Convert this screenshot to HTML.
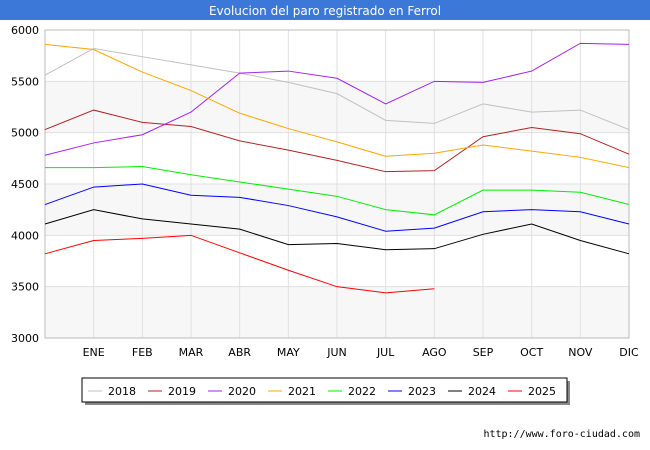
<!DOCTYPE html>
<html><head><meta charset="utf-8"><style>
body{margin:0;background:#fff;font-family:"Liberation Sans","DejaVu Sans",sans-serif;}
#wrap{position:relative;width:650px;height:450px;overflow:hidden;}
</style></head><body>
<div id="wrap">
<svg id="svg" width="650" height="450" xmlns="http://www.w3.org/2000/svg">
<rect x="0" y="0" width="650" height="20" fill="#3b78d8"/>
<text x="325" y="15" text-anchor="middle" fill="#fff" font-size="12" font-family="DejaVu Sans, sans-serif">Evolucion del paro registrado en Ferrol</text>
<g id="plot"></g>
<text x="640" y="437" text-anchor="end" font-size="10" font-family="DejaVu Sans Mono, monospace" fill="#000">http://www.foro-ciudad.com</text>
</svg>
</div>
<script>
const months=["","ENE","FEB","MAR","ABR","MAY","JUN","JUL","AGO","SEP","OCT","NOV","DIC"];
const yTicks=[3000,3500,4000,4500,5000,5500,6000];
const seriesNames=["2018","2019","2020","2021","2022","2023","2024","2025"];
const seriesColors=["#c0c0c0","#b22222","#a020f0","#ffa500","#00ee00","#0000ff","#000000","#ff0000"];
const s2018=[5560,5820,5740,5660,5580,5490,5380,5120,5090,5280,5200,5220,5030];
const s2019=[5030,5220,5100,5060,4920,4830,4730,4620,4630,4960,5050,4990,4790];
const s2020=[4780,4900,4980,5200,5580,5600,5530,5280,5500,5490,5600,5870,5860];
const s2021=[5860,5810,5590,5410,5190,5040,4910,4770,4800,4880,4820,4760,4660];
const s2022=[4660,4660,4670,4590,4520,4450,4380,4250,4200,4440,4440,4420,4300];
const s2023=[4300,4470,4500,4390,4370,4290,4180,4040,4070,4230,4250,4230,4110];
const s2024=[4110,4250,4160,4110,4060,3910,3920,3860,3870,4010,4110,3950,3820];
const s2025=[3820,3950,3970,4000,3830,3660,3500,3440,3480];
const allSeries=[s2018,s2019,s2020,s2021,s2022,s2023,s2024,s2025];
const X0=45,X1=629,Y0=338,Y1=30;
function xs(i){return X0+i*(X1-X0)/12;}
function ys(v){return Y0-(v-3000)*(Y0-Y1)/3000;}
const NS="http://www.w3.org/2000/svg";
const g=document.getElementById("plot");
function mk(t,a){const e=document.createElementNS(NS,t);for(const k in a)e.setAttribute(k,a[k]);g.appendChild(e);return e;}
for(let i=0;i<yTicks.length-1;i+=2){
 const b=mk("rect",{x:X0,y:ys(yTicks[i+1]),width:X1-X0,height:ys(yTicks[i])-ys(yTicks[i+1]),fill:"#f7f7f7"});
 
 
}
yTicks.forEach(v=>{
 const l=mk("line",{x1:X0,x2:X1,y1:ys(v),y2:ys(v),stroke:"#e0e0e0","stroke-width":1});
 
 
 const t=mk("text",{x:X0-6,y:ys(v)+4,"text-anchor":"end","font-size":11,"font-family":"DejaVu Sans, sans-serif"});
 t.textContent=v;
 
 
});
months.forEach((m,i)=>{
 const l=mk("line",{x1:xs(i),x2:xs(i),y1:Y1,y2:Y0,stroke:"#e0e0e0","stroke-width":1});
 
 
 if(m){const t=mk("text",{x:xs(i),y:356,"text-anchor":"middle","font-size":11,"font-family":"DejaVu Sans, sans-serif"});
 t.textContent=m;
 
 }
});
const fr=mk("rect",{x:X0,y:Y1,width:X1-X0,height:Y0-Y1,fill:"none",stroke:"#bbb"});


allSeries.forEach((s,k)=>{
 const p=mk("polyline",{points:s.map((v,i)=>xs(i)+","+ys(v)).join(" "),fill:"none",stroke:seriesColors[k],"stroke-width":1});
 
 
});
const sh=mk("rect",{x:85,y:381,width:485,height:24,fill:"#888"});


const lb=mk("rect",{x:82,y:378,width:485,height:24,fill:"#fff",stroke:"#000"});


seriesNames.forEach((n,k)=>{
 const x=88+k*60;
 const l=mk("line",{x1:x,x2:x+14,y1:391,y2:391,stroke:seriesColors[k],"stroke-width":1});
 
 
 const t=mk("text",{x:x+20,y:395,"font-size":11,"font-family":"DejaVu Sans, sans-serif"});
 t.textContent=n;
 
 
});
</script>
</body></html>
